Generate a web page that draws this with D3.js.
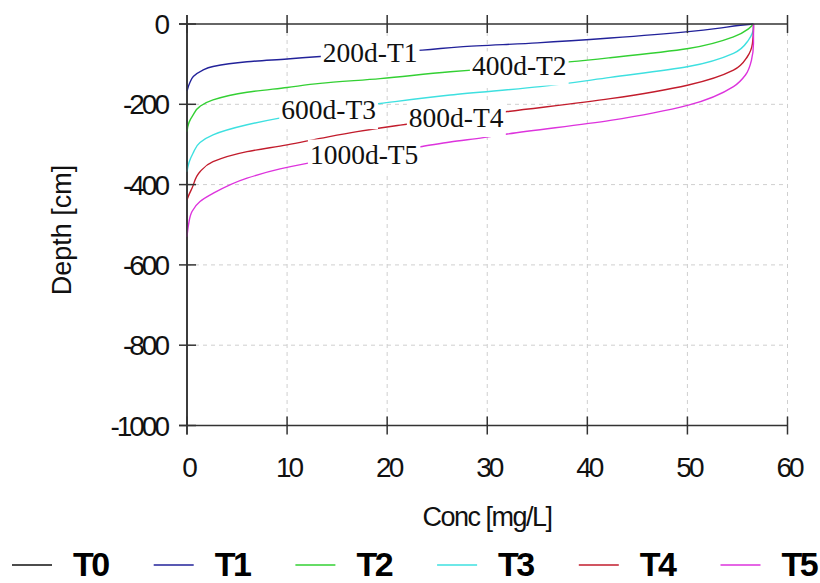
<!DOCTYPE html>
<html>
<head>
<meta charset="utf-8">
<script src="https://cdn.jsdelivr.net/npm/d3@7/dist/d3.min.js"></script>
<style>
  body { margin: 0; background: #fff; }
  .tick-label { font-family: "Liberation Sans", Arial, sans-serif; font-size: 28px; letter-spacing: -3px; fill: #111; }
  .axis-title { font-family: "Liberation Sans", Arial, sans-serif; font-size: 27px; fill: #111; }
  .curve-label { font-family: "Liberation Serif", "Times New Roman", serif; font-size: 27.5px; fill: #111; }
  .legend-text { font-family: "Liberation Sans", Arial, sans-serif; font-size: 34px; font-weight: bold; letter-spacing: -2.5px; fill: #000; }
</style>
</head>
<body>
<div id="chart"></div>
<script>
// tick values
var xTicks = [0, 10, 20, 30, 40, 50, 60];
var yTicks = [0, -200, -400, -600, -800, -1000];

// series names (legend)
var seriesNames = ["T0", "T1", "T2", "T3", "T4", "T5"];

// profiles: [conc mg/L, depth cm], from bottom of the front up to the surface
var t0 = [[0, -1000], [0, 0]];
var t1 = [[0, -167], [0.3, -145], [0.63, -131], [1.5, -116], [2.6, -106], [6, -94], [10, -87],
          [13.3, -81], [18, -73], [23.5, -65], [27.3, -57], [35, -47], [42.3, -35], [50.1, -19],
          [53, -11], [55.3, -3], [56.6, 0]];
var t2 = [[0, -268], [0.2, -245], [0.6, -227], [1.3, -205], [2.6, -189], [6, -170], [10, -158],
          [13.3, -148], [19.3, -136], [26.3, -119], [30, -112], [35, -102], [42.3, -84], [50.1, -61],
          [54.6, -32], [56.1, -12], [56.6, 0]];
var t3 = [[0, -368], [0.2, -345], [0.6, -322], [1.3, -295], [2.6, -276], [6, -251], [9.1, -235],
          [14, -215], [19.3, -198], [26.3, -177], [35.3, -156], [42.3, -133], [50.1, -106],
          [54.6, -73], [56.1, -40], [56.6, -7], [56.6, 0]];
var t4 = [[0, -438], [0.2, -425], [0.5, -409], [1.3, -368], [2.6, -343], [6, -318], [10, -301],
          [13.3, -285], [17, -268], [19.3, -259], [21.3, -252], [32, -218], [42.3, -186],
          [50.1, -152], [54.6, -115], [56, -81], [56.5, -48], [56.6, -11], [56.6, 0]];
var t5 = [[0, -530], [0.15, -500], [0.5, -467], [1.3, -442], [2.6, -422], [6, -384], [9.3, -361],
          [11.6, -349], [16, -331], [23.5, -305], [26.3, -294], [29.6, -283], [32, -274],
          [42.3, -240], [50.1, -202], [54.6, -156], [55.8, -127], [56.4, -90], [56.6, -48],
          [56.6, -15], [56.6, 0]];
var seriesData = [t0, t1, t2, t3, t4, t5];

// in-plot curve labels
var labelText = ["200d-T1", "400d-T2", "600d-T3", "800d-T4", "1000d-T5"];
var labelSeries = [1, 2, 3, 4, 5];
var labelConc = [18.3, 33.2, 14.15, 26.9, 17.7];

var colors = ["#111111", "#22229a", "#33d033", "#3ee0e0", "#c21c2c", "#dd33dd"];

var width = 820, height = 583;

var svg = d3.select("#chart").append("svg")
    .attr("width", width)
    .attr("height", height);

var x = d3.scaleLinear().domain([0, 60]).range([187, 787.5]);
var y = d3.scaleLinear().domain([-1000, 0]).range([425.5, 24]);

// Grid
svg.append("g").selectAll("line")
    .data(xTicks.filter(function(d) { return d > 0; }))
    .enter().append("line")
    .attr("x1", function(d) { return x(d); })
    .attr("x2", function(d) { return x(d); })
    .attr("y1", y(0)).attr("y2", y(-1000))
    .attr("stroke", "#cfcfcf").attr("stroke-dasharray", "4,4");

svg.append("g").selectAll("line")
    .data(yTicks.filter(function(d) { return d < 0 && d > -1000; }))
    .enter().append("line")
    .attr("y1", function(d) { return y(d); })
    .attr("y2", function(d) { return y(d); })
    .attr("x1", x(0)).attr("x2", x(60))
    .attr("stroke", "#cfcfcf").attr("stroke-dasharray", "4,4");

// Curves
var line = d3.line()
    .x(function(d) { return x(d[0]); })
    .y(function(d) { return y(d[1]); })
    .curve(d3.curveMonotoneY);

svg.append("g").selectAll("path")
    .data(seriesData)
    .enter().append("path")
    .attr("d", line)
    .attr("fill", "none")
    .attr("stroke", function(d, i) { return colors[i]; })
    .attr("stroke-width", 1.4);

// depth of a profile at a given conc (linear between points)
function depthAt(data, c) {
    for (var i = 1; i < data.length; i++) {
        if (data[i][0] >= c) {
            var a = data[i - 1], b = data[i];
            return a[1] + (b[1] - a[1]) * (c - a[0]) / (b[0] - a[0]);
        }
    }
    return data[data.length - 1][1];
}

// Curve labels with white boxes over the lines
labelText.forEach(function(t, i) {
    var cx = x(labelConc[i]),
        cy = y(depthAt(seriesData[labelSeries[i]], labelConc[i]));
    var g = svg.append("g");
    var rect = g.append("rect").attr("fill", "#fff");
    var txt = g.append("text")
        .attr("class", "curve-label")
        .attr("x", cx)
        .attr("y", cy + 9)
        .attr("text-anchor", "middle")
        .text(t);
    var bb = txt.node().getBBox();
    rect.attr("x", bb.x - 2).attr("y", bb.y + 1)
        .attr("width", bb.width + 4).attr("height", bb.height + 3);
});

// Axes (lines with crossing ticks)
var axisColor = "#333";
var axes = svg.append("g").attr("stroke", axisColor).attr("stroke-width", 1.5);

axes.append("line").attr("x1", x(0) - 8).attr("x2", x(60)).attr("y1", y(0)).attr("y2", y(0));
axes.append("line").attr("x1", x(0) - 8).attr("x2", x(60)).attr("y1", y(-1000)).attr("y2", y(-1000));
axes.append("line").attr("x1", x(0)).attr("x2", x(0)).attr("y1", y(0) - 9).attr("y2", y(-1000) + 9);

xTicks.forEach(function(d) {
    axes.append("line").attr("x1", x(d)).attr("x2", x(d)).attr("y1", y(0) - 9).attr("y2", y(0) + 9);
    axes.append("line").attr("x1", x(d)).attr("x2", x(d)).attr("y1", y(-1000) - 9).attr("y2", y(-1000) + 9);
});
yTicks.forEach(function(d) {
    axes.append("line").attr("x1", x(0) - 8).attr("x2", x(0) + 9).attr("y1", y(d)).attr("y2", y(d));
});

// tick labels
svg.append("g").selectAll("text")
    .data(xTicks)
    .enter().append("text")
    .attr("class", "tick-label")
    .attr("x", function(d) { return x(d) + 1.5; })
    .attr("y", 477)
    .attr("text-anchor", "middle")
    .text(function(d) { return d; });

svg.append("g").selectAll("text")
    .data(yTicks)
    .enter().append("text")
    .attr("class", "tick-label")
    .attr("x", 167)
    .attr("y", function(d) { return y(d) + 10; })
    .attr("text-anchor", "end")
    .text(function(d) { return d; });

// axis titles
svg.append("text")
    .attr("class", "axis-title")
    .attr("x", 487).attr("y", 526)
    .attr("text-anchor", "middle")
    .style("letter-spacing", "-1.5px")
    .text("Conc [mg/L]");

svg.append("text")
    .attr("class", "axis-title")
    .attr("transform", "translate(71,230) rotate(-90)")
    .attr("text-anchor", "middle")
    .text("Depth [cm]");

// legend
var legend = svg.append("g").selectAll("g")
    .data(seriesNames)
    .enter().append("g")
    .attr("transform", function(d, i) { return "translate(" + (12 + i * 141.7) + ",565)"; });

legend.append("line")
    .attr("x1", 0).attr("x2", 40)
    .attr("stroke", function(d, i) { return colors[i]; })
    .attr("stroke-width", 1.5);

legend.append("text")
    .attr("class", "legend-text")
    .attr("x", 61).attr("y", 11)
    .text(function(d) { return d; });
</script>
</body>
</html>
